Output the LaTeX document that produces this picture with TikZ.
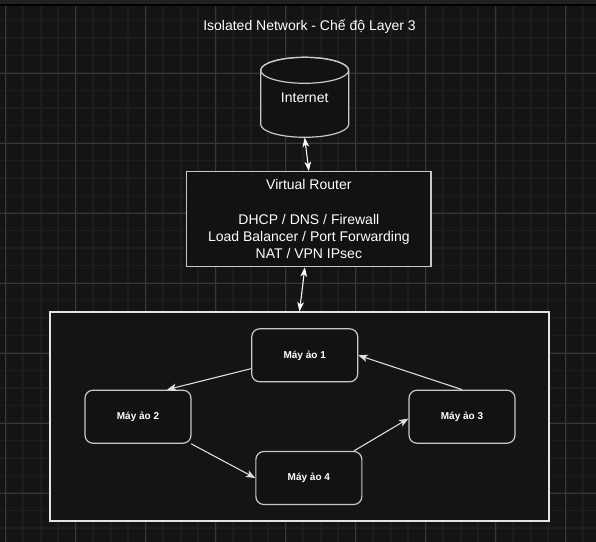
\documentclass[tikz,border=0pt]{standalone}
\usepackage{fontspec}
\setmainfont{Liberation Sans}
\usetikzlibrary{arrows.meta,calc}
\definecolor{bg}{HTML}{141414}
\definecolor{minorgrid}{HTML}{1D1D1D}
\definecolor{majorgrid}{HTML}{383838}
\definecolor{strip}{HTML}{202124}
\definecolor{boxfill}{HTML}{121212}
\definecolor{boxline}{HTML}{C8C8C8}
\definecolor{bigline}{HTML}{E4E4E4}
\definecolor{edgecol}{HTML}{E0E0E0}
\begin{document}
\begin{tikzpicture}[x=0.75pt,y=0.75pt,
  tip/.style={},
  vmbox/.style={draw=boxline, line width=0.9pt, fill=boxfill, rounded corners=6pt,
    minimum width=79.5pt, minimum height=39.75pt, inner sep=0pt, text=white,
    font=\fontsize{7.5}{9}\selectfont\bfseries},
  flow/.style={draw=edgecol, line width=0.8pt, -{Stealth[length=7pt,width=5.5pt,inset=1.8pt]}},
  bothway/.style={draw=white, line width=0.8pt,
    {Stealth[length=7pt,width=5pt,inset=1.8pt]}-{Stealth[length=7pt,width=5pt,inset=1.8pt]}},
  label/.style={text=white, font=\fontsize{10.5}{12.9}\selectfont, align=center, inner sep=0pt},
]
% background
\useasboundingbox (0,0) rectangle (596,-542);
\fill[bg] (0,0) rectangle (596,-542);
\fill[strip] (0,0) rectangle (596,-4);
\fill[black] (0,-4) rectangle (596,-6);
% grid
\foreach \k in {0,...,33} {
  \pgfmathsetmacro\gx{5.7+17.5*\k}
  \draw[minorgrid, line width=1.3pt] (\gx,-6) -- (\gx,-542);
}
\foreach \k in {1,...,30} {
  \pgfmathsetmacro\gy{-(3+17.5*\k)}
  \draw[minorgrid, line width=1.3pt] (0,\gy) -- (596,\gy);
}
\foreach \k in {0,4,...,32} {
  \pgfmathsetmacro\gx{5.7+17.5*\k}
  \draw[majorgrid, line width=0.6pt] (\gx,-6) -- (\gx,-542);
}
\foreach \k in {4,8,...,28} {
  \pgfmathsetmacro\gy{-(3+17.5*\k)}
  \draw[majorgrid, line width=0.6pt] (0,\gy) -- (596,\gy);
}
% title
\node[label] (title) at (309.5,-27) {Isolated Network - Chế độ Layer 3};
% internet cylinder
\filldraw[boxline, fill=boxfill, line width=0.9pt]
  (260.7,-70.3) -- (260.7,-124.3)
  arc[start angle=180, end angle=360, x radius=33pt, y radius=9.75pt]
  -- (348.7,-70.3)
  arc[start angle=0, end angle=180, x radius=33pt, y radius=9.75pt] -- cycle;
\draw[boxline, line width=0.9pt] (304.7,-70.3) ellipse [x radius=33pt, y radius=9.75pt];
\node[label, minimum width=66pt, minimum height=60pt] (internet) at (304.7,-97.3) {Internet};
% router
\node[label, draw=boxline, line width=0.9pt, fill=boxfill,
  minimum width=183.2pt, minimum height=71.25pt] (router) at (308.85,-219.2)
  {Virtual Router\\[12.9pt]DHCP / DNS / Firewall\\Load Balancer / Port Forwarding\\NAT / VPN IPsec};
% big box
\node[draw=bigline, line width=0.9pt, fill=bg, minimum width=374.25pt, minimum height=156.75pt,
  inner sep=0pt] (bigbox) at (299.5,-416.5) {};
% VMs
\node[vmbox] (vm1) at (304.7,-355.3) {Máy ảo 1};
\node[vmbox] (vm2) at (138,-416.7) {Máy ảo 2};
\node[vmbox] (vm3) at (462,-416.7) {Máy ảo 3};
\node[vmbox] (vm4) at (308.85,-478) {Máy ảo 4};
% connectors
\draw[bothway] (internet.south) -- (router.north);
\draw[bothway] ($(router.south)+(-4,0)$) -- (bigbox.north);
\draw[flow] (vm1.194.5) -- (vm2.43);
\draw[flow] (vm2.333.6) -- (vm4.west);
\draw[flow] (vm4.31) -- (vm3.182);
\draw[flow] (vm3.north) -- (vm1.east);
\end{tikzpicture}
\end{document}
